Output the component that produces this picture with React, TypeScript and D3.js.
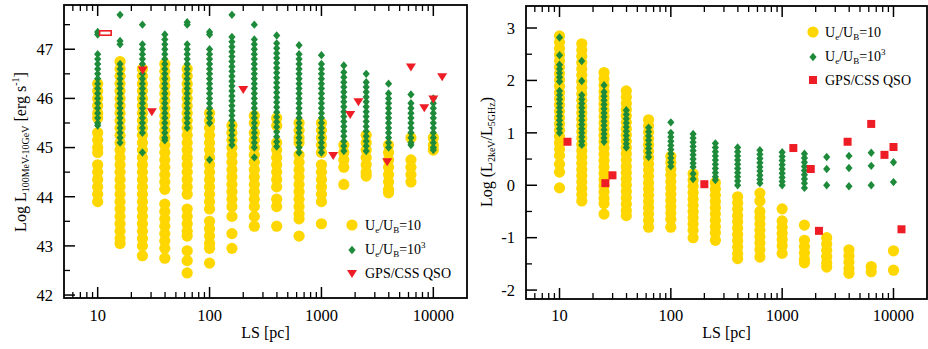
import React from "react";
import * as d3 from "d3";

// Source sizes (pc), columns of the model
const LS = [10, 15.85, 25.12, 39.81, 63.1, 100, 158.5, 251.2, 398.1, 631, 1000, 1585, 2512, 3981, 6310, 10000];

// Left panel: Log L(100MeV-10GeV), Ue/UB = 10
const leftYellow: number[][] = [
  [46.3, 46.15, 46.0, 45.85, 45.7, 45.6, 45.3, 45.15, 45.0, 44.9, 44.65, 44.5, 44.35, 44.2, 44.05, 43.9],
  [46.75, 46.6, 46.45, 46.3, 46.15, 46.0, 45.85, 45.7, 45.55, 45.4, 45.25, 45.1, 44.95, 44.8, 44.65, 44.5, 44.35, 44.2, 44.05, 43.9, 43.75, 43.6, 43.45, 43.3, 43.15, 43.05],
  [46.6, 46.45, 46.3, 46.15, 46.0, 45.85, 45.7, 45.55, 45.4, 45.25, 45.1, 44.95, 44.8, 44.65, 44.5, 44.35, 44.2, 44.05, 43.9, 43.75, 43.6, 43.45, 43.3, 43.15, 43.0, 42.8],
  [46.7, 46.55, 46.4, 46.25, 46.1, 45.95, 45.8, 45.65, 45.5, 45.35, 45.2, 45.05, 44.9, 44.75, 44.6, 44.45, 44.3, 44.15, 43.85, 43.7, 43.55, 43.4, 43.25, 43.1, 42.95, 42.75],
  [46.6, 46.45, 46.3, 46.15, 46.0, 45.85, 45.7, 45.55, 45.4, 45.25, 45.1, 44.95, 44.8, 44.65, 44.5, 44.35, 44.2, 44.05, 43.75, 43.6, 43.45, 43.3, 43.2, 42.9, 42.7, 42.45],
  [45.7, 45.55, 45.4, 45.25, 45.1, 44.95, 44.8, 44.65, 44.5, 44.35, 44.2, 44.05, 43.9, 43.75, 43.5, 43.35, 43.2, 43.05, 42.95, 42.65],
  [45.45, 45.3, 45.15, 45.0, 44.85, 44.7, 44.55, 44.4, 44.25, 44.1, 43.95, 43.8, 43.6, 43.25, 42.95],
  [45.65, 45.5, 45.3, 45.15, 45.0, 44.85, 44.7, 44.55, 44.4, 44.25, 44.1, 43.95, 43.8, 43.6, 43.4],
  [45.6, 45.45, 45.1, 44.95, 44.8, 44.65, 44.5, 44.35, 44.2, 43.95, 43.8, 43.4],
  [45.5, 45.35, 45.2, 45.1, 44.85, 44.7, 44.55, 44.4, 44.25, 44.1, 43.95, 43.8, 43.65, 43.55, 43.2],
  [45.5, 45.35, 45.2, 45.05, 44.9, 44.65, 44.5, 44.35, 44.2, 44.05, 43.9, 43.45],
  [45.05, 44.9, 44.75, 44.6, 44.25],
  [45.25, 45.1, 44.95, 44.8, 44.65, 44.5, 44.42],
  [45.05, 44.9, 44.75, 44.6, 44.45, 44.3, 44.15, 44.08],
  [45.2, 44.75, 44.6, 44.45, 44.3],
  [45.2, 45.05, 44.95],
];

// Left panel: Ue/UB = 10^3
const leftGreen: number[][] = [
  [47.35, 47.3, 46.9, 46.8, 46.7, 46.6, 46.5, 46.4, 46.3, 46.2, 46.1, 46.0, 45.9, 45.8, 45.7, 45.6, 45.5, 45.45],
  [47.7, 47.17, 47.1, 46.7, 46.6, 46.5, 46.4, 46.3, 46.2, 46.1, 46.0, 45.9, 45.8, 45.7, 45.6, 45.5, 45.4, 45.3, 45.2, 45.1],
  [47.5, 47.1, 47.0, 46.9, 46.8, 46.7, 46.6, 46.5, 46.4, 46.3, 46.2, 46.1, 46.0, 45.9, 45.8, 45.7, 45.6, 45.5, 45.4, 45.3, 44.9],
  [47.3, 47.2, 47.1, 47.0, 46.9, 46.8, 46.7, 46.6, 46.5, 46.4, 46.3, 46.2, 46.1, 46.0, 45.9, 45.8, 45.7, 45.6, 45.5, 45.4, 45.3, 45.2, 45.15],
  [47.55, 47.5, 47.1, 47.0, 46.9, 46.8, 46.7, 46.6, 46.5, 46.4, 46.3, 46.2, 46.1, 46.0, 45.9, 45.8, 45.7, 45.6, 45.5, 45.4],
  [47.35, 47.3, 47.0, 46.9, 46.8, 46.7, 46.6, 46.5, 46.4, 46.3, 46.2, 46.1, 46.0, 45.9, 45.8, 45.7, 45.6, 45.5, 44.75],
  [47.7, 47.25, 47.15, 47.05, 46.95, 46.85, 46.75, 46.65, 46.55, 46.45, 46.35, 46.25, 46.15, 46.05, 45.95, 45.85, 45.75, 45.65, 45.55, 45.45, 45.35, 45.25, 45.15, 45.05],
  [47.5, 47.2, 47.1, 47.0, 46.9, 46.8, 46.7, 46.6, 46.5, 46.4, 46.3, 46.2, 46.1, 46.0, 45.9, 45.8, 45.7, 45.6, 45.5, 45.4, 45.3, 45.2, 45.1, 45.0, 44.8],
  [47.28, 47.12, 47.02, 46.92, 46.82, 46.72, 46.62, 46.52, 46.42, 46.32, 46.22, 46.12, 46.02, 45.92, 45.82, 45.72, 45.62, 45.52, 45.42, 45.32, 45.22, 45.12, 45.02],
  [47.08, 46.9, 46.8, 46.7, 46.6, 46.5, 46.4, 46.3, 46.2, 46.1, 46.0, 45.9, 45.8, 45.7, 45.6, 45.5, 45.4, 45.3, 45.2, 45.1, 45.0, 44.9],
  [46.88, 46.7, 46.6, 46.5, 46.4, 46.3, 46.2, 46.1, 46.0, 45.9, 45.8, 45.7, 45.6, 45.5, 45.4, 45.3, 45.2, 45.1, 45.0, 44.9],
  [46.67, 46.53, 46.43, 46.33, 46.23, 46.13, 46.03, 45.93, 45.83, 45.73, 45.63, 45.53, 45.43, 45.33, 45.23, 45.13, 45.03, 44.93],
  [46.5, 46.33, 46.23, 46.13, 46.03, 45.93, 45.83, 45.73, 45.63, 45.53, 45.43, 45.33, 45.23, 45.13, 45.03, 44.93],
  [46.3, 46.1, 46.0, 45.9, 45.8, 45.7, 45.6, 45.5, 45.4, 45.3, 45.2, 45.1, 45.0],
  [46.08, 45.9, 45.8, 45.7, 45.6, 45.5, 45.4, 45.3, 45.2, 45.1, 45.05],
  [46.0, 45.9, 45.8, 45.7, 45.6, 45.5, 45.4, 45.3, 45.2, 45.1, 45.0, 44.95],
];

// Right panel: Log(L2keV/L5GHz), Ue/UB = 10
const rightYellow: number[][] = [
  [2.85, 2.73, 2.61, 2.49, 2.37, 2.25, 2.13, 2.01, 1.89, 1.77, 1.65, 1.53, 1.41, 1.29, 1.17, 1.05, 0.93, 0.81, 0.69, 0.57, 0.4, 0.25, -0.05],
  [2.7, 2.58, 2.46, 2.34, 2.22, 2.1, 1.98, 1.86, 1.74, 1.62, 1.5, 1.38, 1.26, 1.14, 1.02, 0.9, 0.78, 0.66, 0.54, 0.42, 0.3, 0.18, 0.06, -0.06, -0.18, -0.3],
  [2.15, 2.03, 1.91, 1.79, 1.67, 1.55, 1.43, 1.31, 1.19, 1.07, 0.95, 0.83, 0.71, 0.59, 0.47, 0.35, 0.23, 0.11, -0.01, -0.13, -0.25, -0.35, -0.55],
  [1.8, 1.68, 1.56, 1.44, 1.32, 1.2, 1.08, 0.96, 0.84, 0.72, 0.6, 0.48, 0.36, 0.24, 0.12, 0.0, -0.12, -0.24, -0.36, -0.48, -0.58],
  [1.25, 1.13, 1.01, 0.89, 0.77, 0.65, 0.53, 0.41, 0.29, 0.17, 0.05, -0.07, -0.19, -0.31, -0.43, -0.55, -0.67, -0.8],
  [0.55, 0.43, 0.31, 0.19, 0.07, -0.05, -0.17, -0.29, -0.41, -0.53, -0.65, -0.8],
  [0.22, 0.1, -0.02, -0.14, -0.26, -0.38, -0.5, -0.62, -0.74, -0.86, -1.0],
  [0.05, -0.07, -0.19, -0.31, -0.43, -0.55, -0.67, -0.79, -0.91, -1.05],
  [-0.22, -0.34, -0.46, -0.58, -0.7, -0.82, -0.94, -1.06, -1.18, -1.3, -1.4],
  [-0.15, -0.3, -0.5, -0.62, -0.74, -0.86, -0.98, -1.1, -1.23, -1.37],
  [-0.45, -0.68, -0.8, -0.92, -1.04, -1.16, -1.3],
  [-0.76, -1.05, -1.17, -1.29, -1.41, -1.48],
  [-1.0, -1.12, -1.24, -1.36, -1.48, -1.56],
  [-1.23, -1.35, -1.47, -1.59, -1.68],
  [-1.55, -1.65],
  [-1.25, -1.62],
];

// Right panel: Ue/UB = 10^3
const rightGreen: number[][] = [
  [2.82, 2.48, 2.3, 2.22, 2.14, 2.06, 1.98, 1.8, 1.72, 1.64, 1.56, 1.48, 1.4, 1.32, 1.24, 1.16, 1.08, 1.0],
  [2.37, 1.99, 1.72, 1.64, 1.56, 1.48, 1.4, 1.32, 1.24, 1.16, 1.08, 1.0, 0.92, 0.84, 0.77],
  [1.91, 1.78, 1.7, 1.62, 1.54, 1.46, 1.38, 1.3, 1.22, 1.14, 1.06, 0.98, 0.9, 0.83],
  [1.43, 1.35, 1.27, 1.19, 1.11, 1.03, 0.95, 0.87, 0.79, 0.72],
  [1.1, 1.02, 0.94, 0.86, 0.78, 0.7, 0.62, 0.54],
  [1.2, 1.0, 0.92, 0.84, 0.76, 0.68, 0.6, 0.52, 0.44, 0.36],
  [0.98, 0.9, 0.82, 0.74, 0.66, 0.58, 0.5, 0.42, 0.35, 0.22, 0.12],
  [0.8, 0.72, 0.64, 0.56, 0.48, 0.4, 0.32, 0.24, 0.16, 0.1],
  [0.72, 0.64, 0.56, 0.48, 0.4, 0.32, 0.24, 0.16, 0.08, 0.0],
  [0.67, 0.59, 0.51, 0.43, 0.35, 0.27, 0.19, 0.11, 0.04],
  [0.63, 0.55, 0.47, 0.39, 0.31, 0.23, 0.15, 0.07, 0.0],
  [0.6, 0.52, 0.44, 0.36, 0.28, 0.2, 0.12, 0.04, -0.05],
  [0.54, 0.31, 0.0],
  [0.56, 0.33, -0.02],
  [0.62, 0.37, 0.0],
  [0.44, 0.06],
];

// GPS/CSS QSO observations
const qsoLSLeft = [25.3, 30.5, 200, 1274, 1807, 2140, 3873, 6310, 8300, 10000, 12000];
const qsoLgamma = [46.57, 45.72, 46.17, 44.83, 45.66, 45.92, 44.7, 46.63, 45.8, 45.98, 46.43];
const qsoRangeLS = [10.4, 13.2];
const qsoRangeL = 47.33;
const qsoLSRight = [11.8, 25.8, 29.9, 200, 1260, 1807, 2140, 3870, 6310, 8300, 10000, 11800];
const qsoRatio = [0.83, 0.04, 0.19, 0.02, 0.71, 0.31, -0.87, 0.83, 1.17, 0.58, 0.73, -0.84];

const xTickValues = [10, 100, 1000, 10000];
const xTickLabels = ["10", "100", "1000", "10000"];
const leftYTicks = [42, 43, 44, 45, 46, 47];
const rightYTicks = [-2, -1, 0, 1, 2, 3];

const YELLOW = "#FFD700";
const GREEN = "#1E8B3A";
const RED = "#EE1C25";
const FONT = "Liberation Serif, Times New Roman, Times, DejaVu Serif, serif";

const diamond = "M0,-4.2L3.6,0L0,4.2L-3.6,0Z";
const triDown = "M-5,-4L5,-4L0,4Z";

function minorLogTicks(): number[] {
  const out: number[] = [];
  for (let dec = 1; dec <= 1000; dec *= 10) {
    for (let m = 1; m <= 9; m++) out.push(m * dec * 1);
  }
  return out;
}

type PanelProps = {
  x0: number; x1: number; y0: number; y1: number;
  yDomain: [number, number];
  yTicks: number[];
  yMinor: number[];
  yellow: number[][];
  green: number[][];
  children?: (x: d3.ScaleLogarithmic<number, number>, y: d3.ScaleLinear<number, number>) => React.ReactNode;
};

function Panel({ x0, x1, y0, y1, yDomain, yTicks, yMinor, yellow, green, children }: PanelProps) {
  const x = d3.scaleLog().domain([5, 20000]).range([x0, x1]);
  const y = d3.scaleLinear().domain(yDomain).range([y1, y0]);
  const minors = [6, 7, 8, 9].concat(minorLogTicks().filter((v) => !xTickValues.includes(v) && v >= 10 && v <= 20000));
  return (
    <g>
      {yellow.map((col, i) =>
        col.map((v, j) => <circle key={`y${i}-${j}`} cx={x(LS[i])} cy={y(v)} r={5.6} fill={YELLOW} />)
      )}
      {green.map((col, i) =>
        col.map((v, j) => (
          <path key={`g${i}-${j}`} d={diamond} transform={`translate(${x(LS[i])},${y(v)})`} fill={GREEN} />
        ))
      )}
      {children && children(x, y)}
      <rect x={x0} y={y0} width={x1 - x0} height={y1 - y0} fill="none" stroke="#000" strokeWidth={1.8} />
      {xTickValues.map((t, i) => (
        <g key={`xt${i}`}>
          <line x1={x(t)} x2={x(t)} y1={y1} y2={y1 - 11} stroke="#000" strokeWidth={1.5} />
          <line x1={x(t)} x2={x(t)} y1={y0} y2={y0 + 11} stroke="#000" strokeWidth={1.5} />
          <text x={x(t)} y={321} textAnchor="middle" fontFamily={FONT} fontSize={16.5}>{xTickLabels[i]}</text>
        </g>
      ))}
      {minors.map((t, i) => (
        <g key={`xm${i}`}>
          <line x1={x(t)} x2={x(t)} y1={y1} y2={y1 - 6} stroke="#000" strokeWidth={1.3} />
          <line x1={x(t)} x2={x(t)} y1={y0} y2={y0 + 6} stroke="#000" strokeWidth={1.3} />
        </g>
      ))}
      {yTicks.map((t) => (
        <g key={`yt${t}`}>
          <line x1={x0} x2={x0 + 11} y1={y(t)} y2={y(t)} stroke="#000" strokeWidth={1.5} />
          <text x={x0 - 11} y={y(t)} dy="0.35em" textAnchor="end" fontFamily={FONT} fontSize={16.5}>{t}</text>
        </g>
      ))}
      {yMinor.map((t) => (
        <line key={`ym${t}`} x1={x0} x2={x0 + 6} y1={y(t)} y2={y(t)} stroke="#000" strokeWidth={1.3} />
      ))}
      <text x={(x0 + x1) / 2} y={338} textAnchor="middle" fontFamily={FONT} fontSize={16}>LS [pc]</text>
    </g>
  );
}

export default function App() {
  return (
    <svg width={928} height={349} style={{ position: "absolute", left: 0, top: 0, background: "#fff" }}>
      <rect width={928} height={349} fill="#fff" />
      <Panel
        x0={64} x1={467} y0={5} y1={298}
        yDomain={[41.94, 47.9]}
        yTicks={leftYTicks}
        yMinor={[42.5, 43.5, 44.5, 45.5, 46.5, 47.5]}
        yellow={leftYellow}
        green={leftGreen}
      >
        {(x, y) => (
          <g>
            {qsoLSLeft.map((l, i) => (
              <path key={`tl${i}`} d={triDown} transform={`translate(${x(l)},${y(qsoLgamma[i])})`} fill={RED} />
            ))}
            <rect x={x(qsoRangeLS[0])} y={y(qsoRangeL) - 2.2} width={x(qsoRangeLS[1]) - x(qsoRangeLS[0])} height={4.4}
              fill="#fff" stroke={RED} strokeWidth={1.6} />
            <circle cx={352} cy={225} r={5.6} fill={YELLOW} />
            <text x={365} y={230} fontFamily={FONT} fontSize={14}>
              U<tspan fontSize={9} dy={3}>e</tspan><tspan dy={-3}>/U</tspan><tspan fontSize={9} dy={3}>B</tspan><tspan dy={-3}>=10</tspan>
            </text>
            <path d={diamond} transform="translate(352,250)" fill={GREEN} />
            <text x={365} y={254} fontFamily={FONT} fontSize={14}>
              U<tspan fontSize={9} dy={3}>e</tspan><tspan dy={-3}>/U</tspan><tspan fontSize={9} dy={3}>B</tspan><tspan dy={-3}>=10</tspan><tspan fontSize={9} dy={-6}>3</tspan>
            </text>
            <path d={triDown} transform="translate(352,274)" fill={RED} />
            <text x={365} y={278} fontFamily={FONT} fontSize={14}>GPS/CSS QSO</text>
          </g>
        )}
      </Panel>
      <Panel
        x0={526} x1={927} y0={6} y1={299}
        yDomain={[-2.17, 3.42]}
        yTicks={rightYTicks}
        yMinor={[-1.5, -0.5, 0.5, 1.5, 2.5]}
        yellow={rightYellow}
        green={rightGreen}
      >
        {(x, y) => (
          <g>
            {qsoLSRight.map((l, i) => (
              <rect key={`sq${i}`} x={x(l) - 4} y={y(qsoRatio[i]) - 4} width={8} height={8} fill={RED} />
            ))}
            <circle cx={813} cy={32} r={5.6} fill={YELLOW} />
            <text x={825} y={37} fontFamily={FONT} fontSize={14}>
              U<tspan fontSize={9} dy={3}>e</tspan><tspan dy={-3}>/U</tspan><tspan fontSize={9} dy={3}>B</tspan><tspan dy={-3}>=10</tspan>
            </text>
            <path d={diamond} transform="translate(813,57)" fill={GREEN} />
            <text x={825} y={61} fontFamily={FONT} fontSize={14}>
              U<tspan fontSize={9} dy={3}>e</tspan><tspan dy={-3}>/U</tspan><tspan fontSize={9} dy={3}>B</tspan><tspan dy={-3}>=10</tspan><tspan fontSize={9} dy={-6}>3</tspan>
            </text>
            <rect x={809} y={76} width={8} height={8} fill={RED} />
            <text x={825} y={85} fontFamily={FONT} fontSize={14}>GPS/CSS QSO</text>
          </g>
        )}
      </Panel>
      <text transform="translate(26,152) rotate(-90)" textAnchor="middle" fontFamily={FONT} fontSize={16}>
        Log L<tspan fontSize={10} dy={3}>100MeV-10GeV</tspan><tspan dy={-3}> [erg s</tspan><tspan fontSize={10} dy={-7}>-1</tspan><tspan dy={7}>]</tspan>
      </text>
      <text transform="translate(492,152) rotate(-90)" textAnchor="middle" fontFamily={FONT} fontSize={16}>
        Log (L<tspan fontSize={10} dy={3}>2keV</tspan><tspan dy={-3}>/L</tspan><tspan fontSize={10} dy={3}>5GHz</tspan><tspan dy={-3}>)</tspan>
      </text>
    </svg>
  );
}
